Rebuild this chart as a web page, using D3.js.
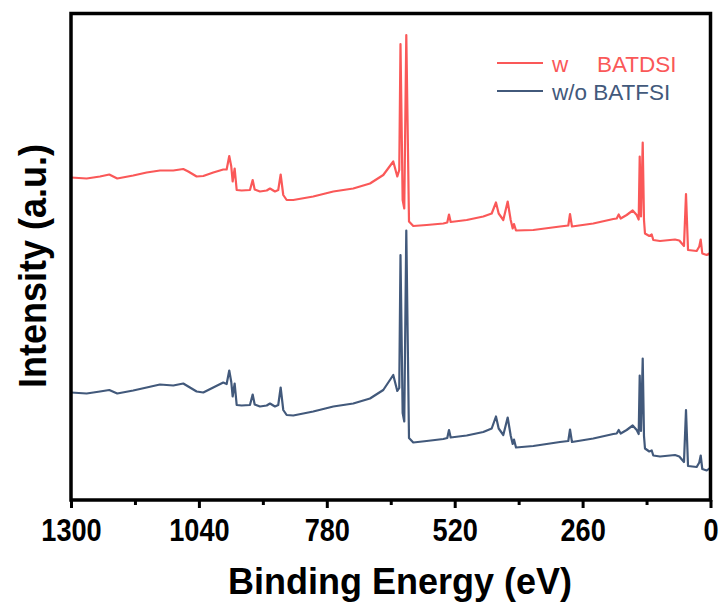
<!DOCTYPE html>
<html>
<head>
<meta charset="utf-8">
<script src="https://cdn.jsdelivr.net/npm/d3@7"></script>
<style>
  html, body { margin: 0; padding: 0; background: #fff; }
  svg { display: block; font-family: "Liberation Sans", Arial, sans-serif; }
</style>
</head>
<body>
<svg id="chart" width="721" height="604"></svg>
<script>
// binding energy (eV), shared by both spectra
const energy = [1300, 1268.2, 1241.1, 1222.2, 1206.0, 1173.5, 1146.2, 1119.2, 1092.1, 1071.8,
  1061.6, 1044.6, 1031.1, 1010.8, 990.5, 983.6, 978.3, 974.2, 971.4, 967.3,
  963.2, 953.1, 936.2, 930.7, 926.6, 915.9, 902.2, 895.5, 885.4, 878.7,
  873.8, 868.5, 861.6, 848.2, 807.5, 766.8, 726.2, 692.2, 665.2, 644.9,
  636.7, 632.7, 630.2, 625.8, 622.5, 618.4, 612.9, 604.2, 577.0, 543.2,
  535.1, 531.6, 528.2, 495.6, 461.9, 444.8, 436.1, 430.6, 421.2, 412.3,
  406.2, 402.1, 399.5, 395.4, 360.2, 306.0, 289.1, 285.6, 281.6, 238.3,
  197.6, 190.7, 186.6, 182.6, 170.4, 158.2, 150.0, 146.0, 143.9, 141.3,
  137.8, 135.2, 133.2, 124.4, 119.5, 116.3, 102.7, 82.3, 72.2, 63.4,
  53.9, 49.8, 45.7, 28.1, 22.8, 19.9, 16.7, 7.7, 2.4, 0];

// intensity (a.u.), w BATDSI
const withBATDSI = [64.5, 64.3, 64.7, 65.1, 64.3, 64.9, 65.5, 65.9, 65.9, 66.2,
  65.7, 64.7, 64.8, 65.5, 66.1, 66.1, 68.8, 66.7, 63.7, 66.3,
  62.0, 61.9, 62.0, 64.0, 62.1, 61.7, 61.9, 62.3, 61.7, 62.0,
  65.1, 61.0, 60.0, 60.0, 60.7, 61.7, 62.3, 63.3, 65.0, 67.7,
  64.7, 66.0, 91.2, 60.0, 58.3, 93.0, 55.7, 54.8, 55.0, 55.3,
  55.5, 57.1, 55.6, 56.0, 56.7, 57.3, 59.5, 57.3, 56.0, 59.7,
  56.0, 54.3, 55.2, 53.9, 54.0, 54.7, 54.9, 57.2, 54.7, 55.3,
  56.2, 56.3, 57.1, 56.3, 57.0, 57.9, 57.0, 56.1, 68.7, 56.7,
  71.5, 56.0, 53.3, 52.8, 53.1, 52.0, 51.8, 52.0, 52.1, 51.9,
  50.8, 61.2, 50.0, 49.8, 50.7, 52.1, 49.3, 49.0, 49.3, 48.8];

// intensity (a.u.), w/o BATFSI
const withoutBATFSI = [21.5, 21.3, 21.7, 22.0, 21.3, 21.9, 22.5, 23.1, 22.9, 23.3,
  22.7, 21.7, 21.5, 22.5, 23.5, 23.2, 25.9, 23.6, 20.7, 23.3,
  19.0, 18.9, 19.0, 21.1, 19.1, 18.7, 18.9, 19.3, 18.7, 19.0,
  22.5, 18.0, 17.0, 16.9, 17.7, 18.7, 19.3, 20.3, 22.0, 25.0,
  21.8, 22.4, 49.0, 17.4, 15.7, 53.9, 12.4, 11.5, 11.8, 12.2,
  12.4, 14.0, 12.5, 12.9, 13.6, 14.3, 16.7, 14.3, 13.0, 16.5,
  12.9, 11.2, 12.1, 10.5, 10.8, 11.6, 11.8, 14.1, 11.6, 12.3,
  13.2, 13.3, 14.0, 13.3, 14.0, 14.9, 14.0, 13.2, 24.9, 13.8,
  28.3, 12.8, 10.3, 9.7, 9.9, 8.9, 8.7, 8.9, 9.0, 8.7,
  7.6, 18.0, 6.8, 6.6, 7.5, 8.9, 6.2, 5.9, 6.3, 6.0];

const xTicks = [1300, 1040, 780, 520, 260, 0];
const xMinorTicks = [1170, 910, 650, 390, 130];
const seriesNames = [["w", "BATDSI"], ["w/o", "BATFSI"]];
const seriesColors = ["#fa5858", "#42597b"];

const svg = d3.select("#chart");
const plot = { left: 71, right: 710.5, top: 13.5, bottom: 500 };

const x = d3.scaleLinear().domain([1300, 0]).range([plot.left, plot.right]);
const y = d3.scaleLinear().domain([0, 97.3]).range([plot.bottom, plot.top]);

const line = d3.line()
  .x((d) => x(d[0]))
  .y((d) => y(d[1]));

const series = [withBATDSI, withoutBATFSI];
series.forEach((vals, i) => {
  svg.append("path")
    .datum(energy.map((e, j) => [e, vals[j]]))
    .attr("fill", "none")
    .attr("stroke", seriesColors[i])
    .attr("stroke-width", 2.2)
    .attr("stroke-linejoin", "round")
    .attr("d", line);
});

// frame
svg.append("rect")
  .attr("x", plot.left).attr("y", plot.top)
  .attr("width", plot.right - plot.left).attr("height", plot.bottom - plot.top)
  .attr("fill", "none")
  .attr("stroke", "#000")
  .attr("stroke-width", 3.5);

// x axis, major + minor ticks
const xAxis = svg.append("g")
  .attr("transform", `translate(0,${plot.bottom})`)
  .call(d3.axisBottom(x).tickValues(xTicks).tickSize(8).tickFormat(d3.format("d")));
xAxis.select(".domain").remove();
xAxis.selectAll(".tick line").attr("stroke", "#000").attr("stroke-width", 3);
xAxis.selectAll(".tick text")
  .attr("y", 0).attr("dy", 0)
  .attr("transform", "translate(0,41) scale(0.97,1.1)")
  .attr("fill", "#000")
  .style("font-size", "28px")
  .style("font-weight", "bold")
  .style("font-family", "'Liberation Sans', Arial, sans-serif");

const xMinor = svg.append("g")
  .attr("transform", `translate(0,${plot.bottom})`)
  .call(d3.axisBottom(x).tickValues(xMinorTicks).tickSize(5).tickFormat(""));
xMinor.select(".domain").remove();
xMinor.selectAll(".tick line").attr("stroke", "#000").attr("stroke-width", 3);

// axis titles
svg.append("text")
  .attr("transform", "translate(400,594) scale(1,1.05)")
  .attr("text-anchor", "middle")
  .style("font-size", "36px")
  .style("font-weight", "bold")
  .text("Binding Energy (eV)");

svg.append("text")
  .attr("transform", "translate(46,266) rotate(-90) scale(1,1.08)")
  .attr("text-anchor", "middle")
  .style("font-size", "36px")
  .style("font-weight", "bold")
  .text("Intensity (a.u.)");

// legend
const legend = svg.append("g").attr("transform", "translate(497,63)");
seriesNames.forEach((name, i) => {
  const row = legend.append("g").attr("transform", `translate(0,${i * 28})`);
  row.append("line")
    .attr("x1", 0).attr("x2", 46)
    .attr("stroke", seriesColors[i]).attr("stroke-width", 2);
  const t = row.append("text")
    .attr("y", 8.5)
    .attr("fill", seriesColors[i])
    .style("font-size", "22.5px");
  if (i === 0) {
    t.append("tspan").attr("x", 55).text(name[0]);
    t.append("tspan").attr("x", 100).text(name[1]);
  } else {
    t.append("tspan").attr("x", 55).text(name[0] + " " + name[1]);
  }
});
</script>
</body>
</html>
